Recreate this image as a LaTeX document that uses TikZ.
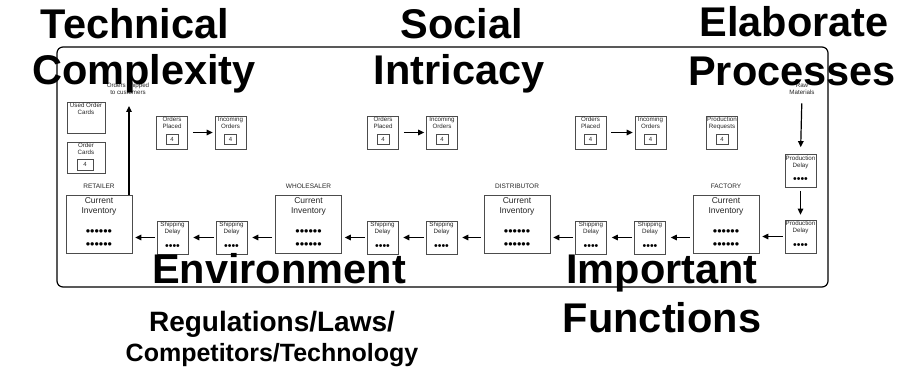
\documentclass[tikz,border=0pt]{standalone}
\usepackage{fontspec}
\setmainfont{Liberation Sans}
\usetikzlibrary{arrows.meta}

\begin{document}
\begin{tikzpicture}[x=1pt,y=-1pt,
  box/.style={draw=black!70, line width=0.7pt, inner sep=0pt},
  sbox/.style={box, minimum width=31pt, minimum height=33pt},
  ibox/.style={box, minimum width=66pt, minimum height=58pt},
  cbox/.style={box, minimum width=38pt, minimum height=31pt},
  numbox/.style={box, minimum width=12pt, minimum height=10.5pt,
    font=\fontsize{6}{6}\selectfont, text=black!85},
  tiny/.style={font=\fontsize{6.2}{7}\selectfont, align=center, inner sep=0pt,
    text=black!85},
  invtext/.style={font=\fontsize{8.5}{10}\selectfont, align=center, inner sep=0pt,
    text=black!85},
  lab/.style={font=\fontsize{6.5}{7}\selectfont, inner sep=0pt, text=black!85},
  dots/.style={font=\fontsize{12.5}{12.5}\selectfont, inner sep=0pt},
  sdots/.style={font=\fontsize{10.5}{10.5}\selectfont, inner sep=0pt},
  arr/.style={-{Triangle[length=6pt,width=5.5pt]}, line width=1.2pt},
  big/.style={font=\fontsize{41.5}{46}\bfseries\selectfont, anchor=base, inner sep=0pt},
  mid/.style={font=\fontsize{28}{32}\bfseries\selectfont, anchor=base, inner sep=0pt},
  midb/.style={font=\fontsize{25}{30}\bfseries\selectfont, anchor=base, inner sep=0pt}
]
\useasboundingbox (0,0) rectangle (917,369);

% outer frame of the board
\draw[line width=1.2pt, rounded corners=6pt] (57,47) rectangle (828,287);

% order cards on the retailer side
\node[cbox] (used) at (86,117.5) {};
\node[tiny, anchor=north] (usedT) at ([yshift=-1.5pt]used.north) {Used Order\\Cards};
\node[cbox] (cards) at (86,157.5) {};
\node[tiny, anchor=north] (cardsT) at ([yshift=-1.5pt]cards.north) {Order\\Cards};
\node[numbox, minimum width=16pt, minimum height=11pt] (cardsN) at (85,164.5) {4};

% order flow: placed -> incoming, for three stages
\foreach \i/\xo/\xi in {1/172/230.5, 2/383/442, 3/590.5/650.5} {
  \node[sbox] (op\i) at (\xo,132.5) {};
  \node[tiny, anchor=north] (opT\i) at ([yshift=-1.5pt]op\i.north) {Orders\\Placed};
  \node[numbox] (opN\i) at ([yshift=-7pt]op\i.center) {4};
  \node[sbox] (io\i) at (\xi,132.5) {};
  \node[tiny, anchor=north] (ioT\i) at ([yshift=-1.5pt]io\i.north) {Incoming\\Orders};
  \node[numbox] (ioN\i) at ([yshift=-7pt]io\i.center) {4};
  \draw[arr, shorten <=5pt, shorten >=2pt] (op\i.east) -- (io\i.west);
}

% production requests
\node[sbox] (pr) at (722,132.5) {};
\node[tiny, anchor=north] (prT) at ([yshift=-1.5pt]pr.north) {Production\\Requests};
\node[numbox] (prN) at ([yshift=-7pt]pr.center) {4};

% inventories
\foreach \i/\x/\name in {1/99/RETAILER, 2/308.5/WHOLESALER, 3/517/DISTRIBUTOR, 4/726/FACTORY} {
  \node[ibox] (inv\i) at (\x,224) {};
  \node[invtext, anchor=north] (invT\i) at ([yshift=-3pt]inv\i.north) {Current\\Inventory};
  \node[dots] (invA\i) at ([yshift=-9pt]inv\i.center) {••••••};
  \node[dots] (invB\i) at ([yshift=-22pt]inv\i.center) {••••••};
  \node[lab, anchor=south] (invL\i) at ([yshift=6pt]inv\i.north) {\name};
}

% shipping delays
\foreach \i/\x in {1/172.5, 2/231.5, 3/382.5, 4/441.5, 5/591, 6/650} {
  \node[sbox] (sd\i) at (\x,237.5) {};
  \node[tiny, anchor=north] (sdT\i) at ([yshift=-1.5pt]sd\i.north) {Shipping\\Delay};
  \node[sdots] (sdD\i) at ([yshift=-9.5pt]sd\i.center) {••••};
}

% production delays
\node[sbox] (pd1) at (800.5,171) {};
\node[tiny, anchor=north] (pdT1) at ([yshift=-1.5pt]pd1.north) {Production\\Delay};
\node[sdots] (pdD1) at ([yshift=-9.5pt]pd1.center) {••••};
\node[sbox] (pd2) at (800.5,236.5) {};
\node[tiny, anchor=north] (pdT2) at ([yshift=-1.5pt]pd2.north) {Production\\Delay};
\node[sdots] (pdD2) at ([yshift=-9.5pt]pd2.center) {••••};

% outside sources and sinks
\node[tiny] (cust) at (128,89) {Orders shipped\\to customers};
\node[tiny] (raw) at (802,88.5) {Raw\\Materials};

% shipments flowing downstream
\draw[arr, shorten <=2pt, shorten >=3pt] (sd1.west) -- (sd1.west -| inv1.east);
\draw[arr, shorten <=2pt, shorten >=5pt] (sd2.west) -- (sd1.east);
\draw[arr, shorten <=3pt, shorten >=5pt] (sd2.east -| inv2.west) -- (sd2.east);
\draw[arr, shorten <=2pt, shorten >=3pt] (sd3.west) -- (sd3.west -| inv2.east);
\draw[arr, shorten <=2pt, shorten >=5pt] (sd4.west) -- (sd3.east);
\draw[arr, shorten <=3pt, shorten >=5pt] (sd4.east -| inv3.west) -- (sd4.east);
\draw[arr, shorten <=2pt, shorten >=3pt] (sd5.west) -- (sd5.west -| inv3.east);
\draw[arr, shorten <=2pt, shorten >=5pt] (sd6.west) -- (sd5.east);
\draw[arr, shorten <=3pt, shorten >=5pt] (sd6.east -| inv4.west) -- (sd6.east);
\draw[arr, shorten <=2pt, shorten >=3pt] (pd2.west) -- (pd2.west -| inv4.east);
\draw[arr, shorten <=3pt, shorten >=5pt] (pd1.south) -- (pd2.north);
\draw[arr, shorten <=9pt, shorten >=7pt] (raw.south) -- (pd1.north);
\draw[arr, shorten >=11pt] ([xshift=30pt]inv1.north) -- ([xshift=30pt]inv1.north |- cust.south);

% headline labels
\node[big] (t1) at (135,38) {Technical};
\node[big] (t2) at (144,84) {Complexity};
\node[big] (s1) at (462,38) {Social};
\node[big] (s2) at (459,84) {Intricacy};
\node[big] (e1) at (794,37) {Elaborate};
\node[big] (e2) at (792,85) {Processes};
\node[big] (v1) at (279,283) {Environment};
\node[mid] (v2) at (272,331) {Regulations/Laws/};
\node[midb] (v3) at (272,361) {Competitors/Technology};
\node[big] (f1) at (662,283) {Important};
\node[big] (f2) at (662,332) {Functions};
\end{tikzpicture}
\end{document}
